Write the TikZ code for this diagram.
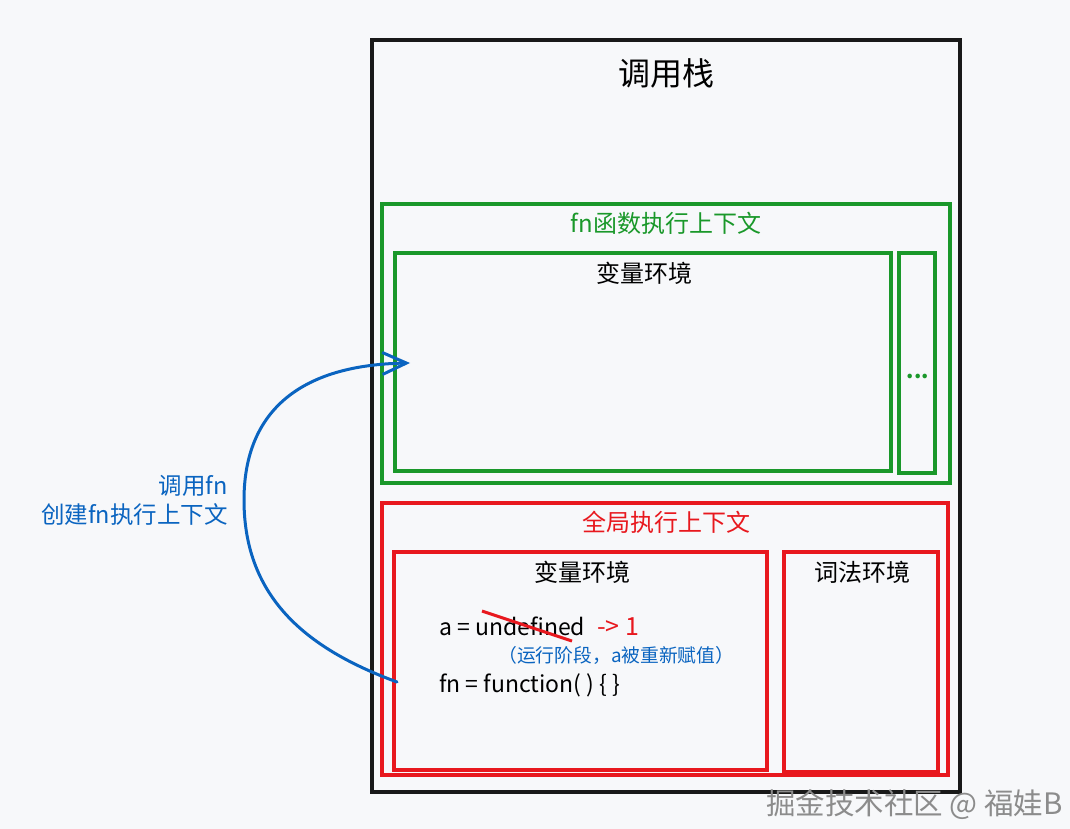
\documentclass[tikz,border=0pt]{standalone}
\usepackage{fontspec}
\setmainfont{Noto Sans CJK SC}
\usetikzlibrary{arrows.meta}
\definecolor{bg}{RGB}{247,248,250}
\definecolor{gr}{RGB}{26,152,42}
\definecolor{rd}{RGB}{232,24,30}
\definecolor{bl}{RGB}{10,100,192}
\definecolor{wm}{RGB}{140,140,140}
\begin{document}
\begin{tikzpicture}[x=1pt,y=-1pt,
  frame/.style={rectangle, inner sep=0pt, outer sep=0pt, line width=3.5pt},
  kbox/.style={frame, draw=black!90, line width=4pt},
  gbox/.style={frame, draw=gr},
  rbox/.style={frame, draw=rd},
  fs/.style={font=\fontsize{#1}{#1}\selectfont},
  lbl/.style={inner sep=0pt, fs=24},
  code/.style={inner sep=0pt, anchor=base west, fs=23},
]
\useasboundingbox[fill=bg] (0,0) rectangle (1070,829);

% boxes
\node[kbox, minimum width=588, minimum height=752] (stack) at (666,416) {};
\node[gbox, minimum width=568, minimum height=279] (fnctx) at (666,343.5) {};
\node[gbox, minimum width=496, minimum height=218] (fnve) at (643,362) {};
\node[gbox, minimum width=36, minimum height=220] (fnmore) at (917,363) {};
\node[rbox, minimum width=566, minimum height=272] (gctx) at (665,639) {};
\node[rbox, minimum width=373, minimum height=218] (gve) at (580.5,661) {};
\node[rbox, minimum width=154, minimum height=220] (gle) at (861,662) {};

% titles
\node[inner sep=0pt, fs=32] (ttl) at (666,73) {调用栈};
\node[lbl, text=gr] (fnttl) at (666,223) {fn函数执行上下文};
\node[lbl] (fnvettl) at (644,273) {变量环境};
\node[inner sep=0pt, anchor=base, text=gr, fs=21] (dots) at (918,378) {\textbf{...}};
\node[lbl, text=rd] (gttl) at (666,522) {全局执行上下文};
\node[lbl] (gvettl) at (582,572) {变量环境};
\node[lbl] (glettl) at (862,572) {词法环境};

% code
\node[code] (avar) at (439,635) {a = undefined};
\node[code, text=rd, fs=25] (aval) at (597,635) {-> 1};
\node[inner sep=0pt, anchor=base west, text=bl, fs=18.8] (note) at (498,662) {（运行阶段，a被重新赋值）};
\node[code] (fnvar) at (439,692) {fn = function( ) \{ \}};
\draw[rd, line width=3pt] (482,611) -- (572,641);

% call arrow
\node[inner sep=0pt, align=right, anchor=east, text=bl, font=\fontsize{23.5}{29}\selectfont] (call) at (228,500) {调用fn\\创建fn执行上下文};
\coordinate (cs) at (397,682);
\coordinate (ce) at (410,363);
\draw[bl, line width=3pt, line cap=round, -{Straight Barb[length=24pt,width=22pt,line width=3pt]}]
  (cs) .. controls (310,650) and (244,600) .. (244,500)
       .. controls (244,420) and (290,365) .. (ce);

% watermark
\node[inner sep=0pt, anchor=east, text=wm, fs=29.5] (mark) at (1063,805) {掘金技术社区 @ 福娃B};
\end{tikzpicture}
\end{document}
